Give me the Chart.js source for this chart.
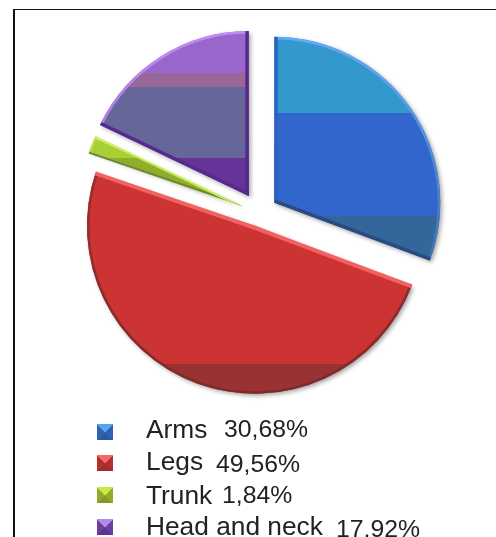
<!DOCTYPE html>
<html>
<head>
<meta charset="utf-8">
<title>Body regions</title>
<script src="https://cdn.jsdelivr.net/npm/chart.js@4"></script>
<style>
  html, body { margin: 0; padding: 0; background: #fff; overflow: hidden; }
  #wrap { position: relative; width: 496px; height: 537px; overflow: hidden; }
  #frame { position: absolute; left: 13px; top: 9px; width: 490px; height: 540px;
           border-left: 2px solid #111; border-top: 1px solid #111; }
  canvas { position: absolute; left: 0; top: 0; }
  .box { position: absolute; left: 97px; width: 16px; height: 16px; }
  .txt { position: absolute; font-family: "Liberation Sans", Arial, sans-serif; color: #222; white-space: nowrap; line-height: 30px; }
  .name { font-size: 26.3px; }
  .val { font-size: 24.8px; }
</style>
</head>
<body>
<div id="wrap">
  <div id="frame"></div>
  <canvas id="pie" width="496" height="537"></canvas>
  <div id="legend"></div>
</div>
<script>
const categories = ["Arms", "Legs", "Trunk", "Head and neck"];
const shares = [30.68, 49.56, 1.84, 17.92];
const shareLabels = ["30,68%", "49,56%", "1,84%", "17,92%"];

// how far each slice is pulled out (chart.js moves it by offset / 4)
const explode = [72, 54, 72, 80];
const pieRadius = [166, 168, 163, 165];

// flat colour bands per slice: [bottom y of band on the page, colour]
const bands = [
  [[113, "#3399cc"], [216, "#3366cc"], [537, "#336699"]],
  [[364, "#cc3333"], [537, "#993333"]],
  [[158, "#a8cf34"], [537, "#8fae2c"]],
  [[73, "#9966cc"], [87, "#996699"], [158, "#666699"], [537, "#663399"]]
];
// bevel colours: arc top, arc bottom, first edge, last edge
const bevels = [
  ["#66aaff", "#2b5a94", "#2a62c4", "#2b4a82"],
  ["#a83030", "#7f2a2a", "#f26262", "#f26262"],
  ["#c8ee50", "#a0c030", "#6f8a20", "#c8ee50"],
  ["#c08cf0", "#8a5cc0", "#552a8c", "#55288a"]
];
const edgeWidth = [7, 8, 4, 7];
const arcWidth = [5, 5, 4, 5];
const legendTone = [
  ["#55a5ea", "#2f62b0", "#2b5aa0"],
  ["#f06a6a", "#b52e2e", "#a02c2c"],
  ["#c8e84a", "#93ab2c", "#849a26"],
  ["#b58ae8", "#6a3fa0", "#5c3590"]
];
const legendRows = [
  { y: 424, textY: 414, valX: 224, valY: 414 },
  { y: 455, textY: 446, valX: 216, valY: 449 },
  { y: 487, textY: 480, valX: 222, valY: 480 },
  { y: 519, textY: 511, valX: 336, valY: 514 }
];

const canvas = document.getElementById("pie");
const ctx = canvas.getContext("2d");

function sliceMidAngle(i) {
  const total = shares.reduce((a, b) => a + b, 0);
  let before = 0;
  for (let k = 0; k < i; k++) before += shares[k];
  return -Math.PI / 2 + (before + shares[i] / 2) / total * Math.PI * 2;
}

// bands are given in page coordinates, the slice gets translated when drawn
function bandFill(i) {
  const dy = Math.sin(sliceMidAngle(i)) * explode[i] / 4;
  const g = ctx.createLinearGradient(0, -dy, 0, 537 - dy);
  let from = 0;
  bands[i].forEach((b) => {
    g.addColorStop(from / 537, b[1]);
    g.addColorStop(b[0] / 537, b[1]);
    from = b[0];
  });
  return g;
}

const bevelPlugin = {
  id: "bevel",
  beforeDatasetsDraw(chart) {
    chart.getDatasetMeta(0).data.forEach((arc, i) => {
      // chart.js grows exploded slices, keep the radius we want
      const fix = 1 - Math.sin(Math.min(Math.PI, arc.circumference));
      arc.outerRadius = pieRadius[i] - explode[i] / 4 * fix;
    });
    const c = chart.ctx;
    c.save();
    c.shadowColor = "rgba(0,0,0,0.35)";
    c.shadowBlur = 4;
    c.shadowOffsetX = 2;
    c.shadowOffsetY = 2;
  },
  afterDatasetsDraw(chart) {
    const c = chart.ctx;
    c.restore();
    chart.getDatasetMeta(0).data.forEach((arc, i) => {
      const mid = (arc.startAngle + arc.endAngle) / 2;
      const r = pieRadius[i];
      const ox = arc.x + Math.cos(mid) * explode[i] / 4;
      const oy = arc.y + Math.sin(mid) * explode[i] / 4;
      c.save();
      c.beginPath();
      c.moveTo(ox, oy);
      c.arc(ox, oy, r, arc.startAngle, arc.endAngle);
      c.closePath();
      c.clip();
      c.lineWidth = arcWidth[i];
      const g = c.createLinearGradient(0, oy - r, 0, oy + r);
      g.addColorStop(0, bevels[i][0]);
      g.addColorStop(1, bevels[i][1]);
      c.strokeStyle = g;
      c.beginPath();
      c.arc(ox, oy, r, arc.startAngle, arc.endAngle);
      c.stroke();
      c.lineWidth = edgeWidth[i];
      [arc.startAngle, arc.endAngle].forEach((a, k) => {
        c.strokeStyle = bevels[i][2 + k];
        c.beginPath();
        c.moveTo(ox, oy);
        c.lineTo(ox + Math.cos(a) * r, oy + Math.sin(a) * r);
        c.stroke();
      });
      c.restore();
    });
  }
};

new Chart(ctx, {
  type: "pie",
  data: {
    labels: categories,
    datasets: [{
      data: shares,
      backgroundColor: categories.map((_, i) => bandFill(i)),
      borderWidth: 0,
      offset: explode
    }]
  },
  options: {
    responsive: false,
    animation: false,
    layout: { padding: { left: 23, bottom: 111 } },
    plugins: { legend: { display: false }, tooltip: { enabled: false } }
  },
  plugins: [bevelPlugin]
});

// Legend
const legend = document.getElementById("legend");
categories.forEach((name, i) => {
  const row = legendRows[i];
  const t = legendTone[i];
  legend.innerHTML += `
    <div class="box" style="top:${row.y}px;background:conic-gradient(from -45deg, ${t[0]} 0 90deg, ${t[1]} 90deg 180deg, ${t[2]} 180deg 270deg, ${t[1]} 270deg)"></div>
    <span class="txt name" style="left:146px;top:${row.textY}px">${name}</span>
    <span class="txt val" style="left:${row.valX}px;top:${row.valY}px">${shareLabels[i]}</span>`;
});
</script>
</body>
</html>
